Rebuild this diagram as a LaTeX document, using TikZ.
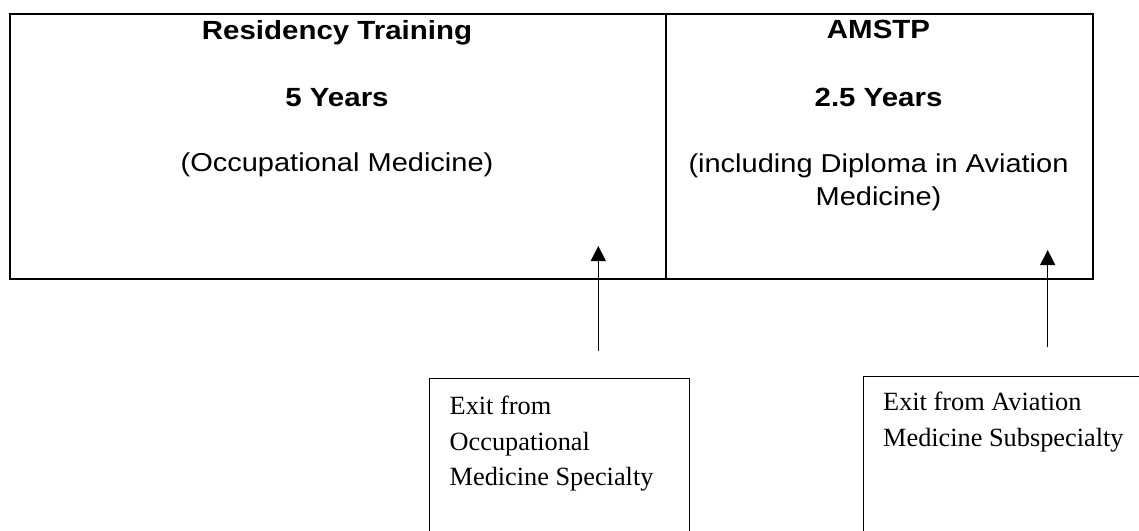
\documentclass[tikz,border=0pt]{standalone}
\usepackage{fontspec}
\setmainfont{Liberation Serif}
\newfontfamily\arialfont[FakeStretch=1.12]{Liberation Sans}
\usepackage{tikz}
\usetikzlibrary{positioning, calc, arrows.meta}

\tikzset{
  cell/.style={draw, line width=2pt, inner sep=0pt, anchor=north west},
  exitbox/.style={draw, line width=1.2pt, inner sep=0pt, anchor=north west},
  title/.style={font=\arialfont\bfseries\fontsize{26.3}{33}\selectfont, anchor=base, inner sep=0pt},
  body/.style={font=\arialfont\fontsize{25.9}{33}\selectfont, inner sep=0pt},
  exittext/.style={font=\fontsize{26.3}{35.5}\selectfont, align=left, anchor=north west, inner sep=0pt},
  uparrow/.style={line width=1.2pt, -{Triangle[length=15pt, width=15pt]}}
}

\begin{document}
\begin{tikzpicture}[x=1pt, y=-1pt]
\clip (0,0) rectangle (1139,530);
% boxes
\node[cell, minimum width=656, minimum height=264.5] (res) at (9,13) {};
\node[cell, minimum width=427, minimum height=264.5] (amstp) at (665,13) {};
\node[exitbox, minimum width=260, minimum height=220] (occexit) at (429,378) {};
\node[exitbox, minimum width=320, minimum height=220] (avexit) at (863,376) {};
% texts
\node[title] (restitle) at (337,39.5) {Residency Training};
\node[title] (resyears) at (337,106) {5 Years};
\node[body, anchor=base] (resfield) at (337,171) {(Occupational Medicine)};
\node[title] (amstptitle) at (878.5,38.5) {AMSTP};
\node[title] (amstpyears) at (878.5,106) {2.5 Years};
\node[body, align=center, anchor=north] (amstpfield) at (878.5,154) {(including Diploma in Aviation\\Medicine)};
\node[exittext] (occtext) at (449.5,396) {Exit from\\Occupational\\Medicine Specialty};
\node[exittext] (avtext) at (883,392) {Exit from Aviation\\Medicine Subspecialty};
% arrows
\coordinate (occtail) at (598.3,351);
\coordinate (occtip) at (598.3,246);
\coordinate (avtail) at (1047.7,347);
\coordinate (avtip) at (1047.7,250);
\draw[uparrow] (occtail) -- (occtip);
\draw[uparrow] (avtail) -- (avtip);
\end{tikzpicture}
\end{document}
